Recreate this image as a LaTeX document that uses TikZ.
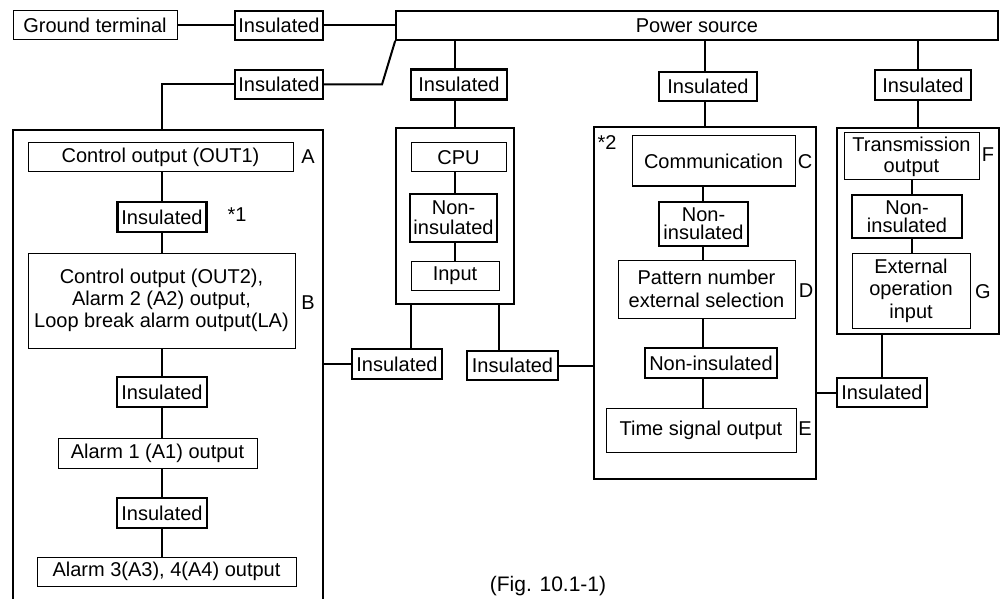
\documentclass[tikz,border=0pt]{standalone}
\usepackage{fontspec}
\setmainfont{Liberation Sans}
\begin{document}
\begin{tikzpicture}[x=1pt,y=-1pt,
  every node/.style={font=\fontsize{20}{22}\selectfont, inner sep=0pt, align=center},
  thinbox/.style={draw, line width=1pt, fill=white},
  medbox/.style={draw, line width=1.6pt, fill=white},
  thickbox/.style={draw, line width=2.2pt, fill=white},
  conn/.style={line width=2pt},
  sp18/.style={font=\fontsize{20}{18}\selectfont},
  sp20/.style={font=\fontsize{20}{20}\selectfont},
  sp21/.style={font=\fontsize{20}{21}\selectfont},
  sp23/.style={font=\fontsize{20}{23}\selectfont},
]
\useasboundingbox (0,0) rectangle (1007,599);
\clip (0,0) rectangle (1007,599);

% top row
\node[thinbox, minimum width=164, minimum height=29] (gt) at (95,25.5) {Ground terminal};
\node[thickbox, minimum width=88, minimum height=29] (ins0) at (279,25.5) {Insulated};
\node[medbox, minimum width=602, minimum height=29] (ps) at (697,25.5) {Power source};
\node[thickbox, minimum width=88, minimum height=29] (insL) at (279,84.5) {Insulated};
\node[thickbox, minimum width=96, minimum height=30] (insC) at (459,84.5) {Insulated};
\node[thickbox, minimum width=98, minimum height=29] (insK) at (708,86.5) {Insulated};
\node[thickbox, minimum width=96, minimum height=30] (insR) at (923,85) {Insulated};

% left block
\node[thickbox, minimum width=310, minimum height=490] (boxL) at (168,375) {};
\node[thinbox, minimum width=265, minimum height=29] (out1) at (160.5,157.5) {Control output (OUT1)};
\node[thickbox, minimum width=89, minimum height=30] (ins1) at (162,217) {Insulated};
\node[thinbox, minimum width=267, minimum height=95] (outB) at (161.5,300.5) {Control output (OUT2),\\Alarm 2 (A2) output,\\Loop break alarm output(LA)};
\node[thickbox, minimum width=90, minimum height=30] (ins2) at (162,392) {Insulated};
\node[thinbox, minimum width=199, minimum height=30] (a1) at (157.5,453) {Alarm 1 (A1) output};
\node[thickbox, minimum width=90, minimum height=30] (ins3) at (162,513) {Insulated};
\node[thinbox, minimum width=259, minimum height=29] (a34) at (166.5,571.5) {Alarm 3(A3), 4(A4) output};
\node (lA) at (308,157) {A};
\node (lB) at (308,303) {B};
\node (s1) at (237,215) {*1};

% CPU block
\node[thickbox, minimum width=118, minimum height=176] (cpuo) at (455,216) {};
\node[thinbox, minimum width=95, minimum height=29] (cpu) at (458.5,157.5) {CPU};
\node[thickbox, sp20, minimum width=87, minimum height=48] (ni1) at (453.5,218) {Non-\\insulated};
\node[thinbox, minimum width=88, minimum height=29] (inp) at (455,275.5) {Input};
\node[thickbox, minimum width=90, minimum height=30] (insM1) at (397,364) {Insulated};
\node[thickbox, minimum width=91, minimum height=29] (insM2) at (512.5,365.5) {Insulated};

% communication block
\node[thickbox, minimum width=222, minimum height=352] (commo) at (705,303) {};
\node[thinbox, minimum width=163, minimum height=50] (comm) at (713.5,161) {Communication};
\node[thickbox, sp18, minimum width=89, minimum height=44] (ni2) at (703.5,224) {Non-\\insulated};
\node[thinbox, sp23, minimum width=177, minimum height=58] (pat) at (706.5,289) {Pattern number\\external selection};
\node[thickbox, minimum width=132, minimum height=30] (ni3) at (711,363) {Non-insulated};
\node[thinbox, minimum width=190, minimum height=44] (ts) at (701,430) {Time signal output};
\node (s2) at (607,143) {*2};
\node (lC) at (805,162) {C};
\node (lD) at (806,291) {D};
\node (lE) at (805,429) {E};

% right block
\node[thickbox, minimum width=162, minimum height=206] (rto) at (918,231) {};
\node[thinbox, sp21, minimum width=135, minimum height=47] (tx) at (911.5,156.5) {Transmission\\output};
\node[thickbox, sp18, minimum width=110, minimum height=43] (ni4) at (907,216.5) {Non-\\insulated};
\node[thinbox, font=\fontsize{20}{22.5}\selectfont, minimum width=118, minimum height=75] (ext) at (911,290.5) {External\\operation\\input};
\node[thickbox, minimum width=90, minimum height=29] (insR2) at (882,392.5) {Insulated};
\node (lF) at (988,155) {F};
\node (lG) at (983,292) {G};

% caption
\node[font=\fontsize{21}{24}\selectfont] (cap) at (548,586) {(Fig. 10.1-1)};

% helper coordinates
\coordinate (kink) at (382,84.5);
\coordinate (lcorner) at (162,84.5);
\coordinate (xC) at (455,0);
\coordinate (xK) at (705,0);
\coordinate (xR) at (918,0);
\coordinate (xL) at (162,0);
\coordinate (xc) at (703,0);
\coordinate (xr) at (912,0);
\coordinate (cm1) at (411,0);
\coordinate (cm2) at (499,0);

% connectors
\draw[conn] (gt.east) -- (ins0.west);
\draw[conn] (ins0.east) -- (ps.west);
\draw[conn] (insL.east) -- (kink) -- (ps.south west);
\draw[conn] (insL.west) -- (lcorner) -- (lcorner |- boxL.north);

\draw[conn] (ps.south -| xC) -- (insC.north -| xC);
\draw[conn] (insC.south -| xC) -- (cpuo.north -| xC);
\draw[conn] (ps.south -| xK) -- (insK.north -| xK);
\draw[conn] (insK.south -| xK) -- (commo.north -| xK);
\draw[conn] (ps.south -| xR) -- (insR.north -| xR);
\draw[conn] (insR.south -| xR) -- (rto.north -| xR);

\draw[conn] (out1.south -| xL) -- (ins1.north -| xL);
\draw[conn] (ins1.south -| xL) -- (outB.north -| xL);
\draw[conn] (outB.south -| xL) -- (ins2.north -| xL);
\draw[conn] (ins2.south -| xL) -- (a1.north -| xL);
\draw[conn] (a1.south -| xL) -- (ins3.north -| xL);
\draw[conn] (ins3.south -| xL) -- (a34.north -| xL);

\draw[conn] (cpu.south -| xC) -- (ni1.north -| xC);
\draw[conn] (ni1.south -| xC) -- (inp.north -| xC);
\draw[conn] (cpuo.south -| cm1) -- (insM1.north -| cm1);
\draw[conn] (cpuo.south -| cm2) -- (insM2.north -| cm2);
\draw[conn] (boxL.east |- insM1.west) -- (insM1.west);
\draw[conn] (insM2.east) -- (insM2.east -| commo.west);

\draw[conn] (comm.south -| xc) -- (ni2.north -| xc);
\draw[conn] (ni2.south -| xc) -- (pat.north -| xc);
\draw[conn] (pat.south -| xc) -- (ni3.north -| xc);
\draw[conn] (ni3.south -| xc) -- (ts.north -| xc);

\draw[conn] (tx.south -| xr) -- (ni4.north -| xr);
\draw[conn] (ni4.south -| xr) -- (ext.north -| xr);
\draw[conn] (commo.east |- insR2.west) -- (insR2.west);
\draw[conn] (insR2.north) -- (insR2.north |- rto.south);
\end{tikzpicture}
\end{document}
